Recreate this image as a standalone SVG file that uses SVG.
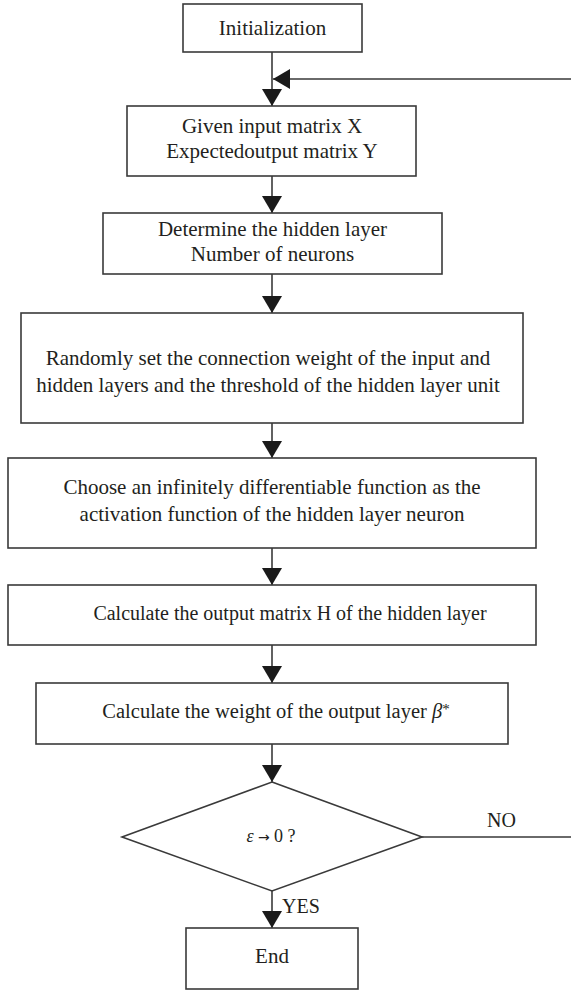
<svg xmlns="http://www.w3.org/2000/svg" width="571" height="992" viewBox="0 0 571 992">
  <defs>
    <marker id="arrow" markerUnits="userSpaceOnUse" markerWidth="18" markerHeight="20" refX="17" refY="10" orient="auto">
      <path d="M0,0 L17,10 L0,20 z" fill="#1a1a1a"/>
    </marker>
    <style>
      .box { fill: #ffffff; stroke: #3a3a3a; stroke-width: 1.6; }
      .lbl { font-family: "Liberation Serif", "Times New Roman", serif; font-size: 21px; fill: #231f20; text-anchor: middle; }
      .edge { fill: none; stroke: #3a3a3a; stroke-width: 1.6; }
      .tag { font-family: "Liberation Serif", "Times New Roman", serif; font-size: 20px; fill: #231f20; }
    </style>
  </defs>
  <rect width="571" height="992" fill="#ffffff"/>

  <g id="connectors">
    <line class="edge" x1="272" y1="52" x2="272" y2="106" marker-end="url(#arrow)"/>
    <line class="edge" x1="272" y1="176" x2="272" y2="213" marker-end="url(#arrow)"/>
    <line class="edge" x1="272" y1="274" x2="272" y2="313" marker-end="url(#arrow)"/>
    <line class="edge" x1="272" y1="423" x2="272" y2="458" marker-end="url(#arrow)"/>
    <line class="edge" x1="272" y1="548" x2="272" y2="585" marker-end="url(#arrow)"/>
    <line class="edge" x1="272" y1="645" x2="272" y2="683" marker-end="url(#arrow)"/>
    <line class="edge" x1="272" y1="744" x2="272" y2="782" marker-end="url(#arrow)"/>
    <line class="edge" x1="272" y1="891" x2="272" y2="928" marker-end="url(#arrow)"/>
    <!-- loop back from the decision (NO) to the input step -->
    <path class="edge" d="M422,837 H576 V79 H273" marker-end="url(#arrow)"/>
    <text class="tag" x="487" y="827">NO</text>
    <text class="tag" x="282" y="913">YES</text>
  </g>

  <g id="init">
    <rect class="box" x="183" y="4" width="179" height="48"/>
    <text class="lbl" x="272.5" y="35">Initialization</text>
  </g>

  <g id="input">
    <rect class="box" x="127" y="106" width="289" height="70"/>
    <text class="lbl" x="272" y="133">Given input matrix X</text>
    <text class="lbl" x="272" y="158">Expectedoutput matrix Y</text>
  </g>

  <g id="hidden-size">
    <rect class="box" x="103" y="213" width="339" height="61"/>
    <text class="lbl" x="272.5" y="236">Determine the hidden layer</text>
    <text class="lbl" x="272.5" y="261">Number of neurons</text>
  </g>

  <g id="random-weights">
    <rect class="box" x="21" y="313" width="502" height="110"/>
    <text class="lbl" x="268" y="365">Randomly set the connection weight of the input and</text>
    <text class="lbl" x="268" y="392">hidden layers and the threshold of the hidden layer unit</text>
  </g>

  <g id="activation">
    <rect class="box" x="8" y="458" width="528" height="90"/>
    <text class="lbl" x="272" y="494">Choose an infinitely differentiable function as the</text>
    <text class="lbl" x="272" y="521">activation function of the hidden layer neuron</text>
  </g>

  <g id="hidden-output">
    <rect class="box" x="8" y="585" width="528" height="60"/>
    <text class="lbl" x="290" y="620" style="font-size:20px">Calculate the output matrix H of the hidden layer</text>
  </g>

  <g id="output-weight">
    <rect class="box" x="36" y="683" width="472" height="61"/>
    <text class="lbl" x="276" y="718" style="font-size:20.5px">Calculate the weight of the output layer <tspan font-style="italic">β</tspan><tspan font-size="15px" dy="-4">*</tspan></text>
  </g>

  <g id="decision">
    <polygon class="box" points="272,782 422,837 272,891 122,837"/>
    <text class="lbl" x="271" y="842" style="font-size:18px"><tspan font-style="italic">ε</tspan><tspan font-family="DejaVu Sans, sans-serif" font-size="14px"> → </tspan>0 ?</text>
  </g>

  <g id="end">
    <rect class="box" x="186" y="928" width="172" height="61"/>
    <text class="lbl" x="272" y="963">End</text>
  </g>
</svg>
